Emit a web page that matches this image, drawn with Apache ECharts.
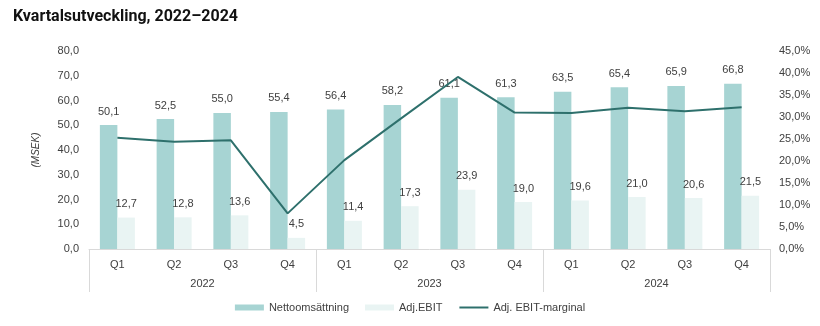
<!DOCTYPE html>
<html>
<head>
<meta charset="utf-8">
<script src="https://cdn.jsdelivr.net/npm/echarts@6/dist/echarts.min.js"></script>
<style>
html,body{margin:0;padding:0;background:#fff;}
#c{width:820px;height:326px;}
</style>
</head>
<body>
<div id="c"></div>
<script>
var quarters = ['Q1','Q2','Q3','Q4','Q1','Q2','Q3','Q4','Q1','Q2','Q3','Q4'];
var years = ['2022','2023','2024'];
var nettoomsattning = [50.1,52.5,55.0,55.4,56.4,58.2,61.1,61.3,63.5,65.4,65.9,66.8];
var adjEbit = [12.7,12.8,13.6,4.5,11.4,17.3,23.9,19.0,19.6,21.0,20.6,21.5];
var ebitMarginal = [25.3,24.4,24.7,8.1,20.2,29.7,39.1,31.0,30.9,32.1,31.3,32.2];

var fmt1 = function(v){ return Number(v).toFixed(1).replace('.', ','); };
var FONT = '"Liberation Sans", Arial, sans-serif';
var chart = echarts.init(document.getElementById('c'));
chart.setOption({
  animation: false,
  title: {
    text: 'Kvartalsutveckling, 2022–2024',
    left: 8, top: 4,
    textStyle: {fontFamily: 'Roboto, "Noto Sans", sans-serif', fontWeight: 'bold', fontSize: 16, color: '#111'}
  },
  grid: {left: 89, right: 50, top: 51, bottom: 77},
  legend: {
    bottom: 8, left: 'center',
    itemWidth: 29, itemHeight: 6, itemGap: 16,
    textStyle: {fontFamily: FONT, fontSize: 11, color: '#404040'},
    data: [
      {name: 'Nettoomsättning', icon: 'rect'},
      {name: 'Adj.EBIT', icon: 'rect'},
      {name: 'Adj. EBIT-marginal', itemStyle: {opacity: 0}}
    ]
  },
  xAxis: [
    {
      type: 'category', data: quarters, position: 'bottom',
      axisLine: {show: true, lineStyle: {color: '#d9d9d9', width: 1}},
      axisTick: {show: false},
      axisLabel: {margin: 10, fontFamily: FONT, fontSize: 11, color: '#404040'}
    },
    {
      type: 'category', data: years, position: 'bottom',
      axisLine: {show: false},
      axisTick: {show: true, length: 43, lineStyle: {color: '#d9d9d9'}},
      axisLabel: {margin: 29, fontFamily: FONT, fontSize: 11, color: '#404040'},
      splitLine: {show: false}
    }
  ],
  yAxis: [
    {
      type: 'value', min: 0, max: 80, interval: 10,
      name: '(MSEK)', nameLocation: 'middle', nameGap: 48, nameRotate: 90,
      nameTextStyle: {fontFamily: FONT, fontSize: 10, fontStyle: 'italic', color: '#404040'},
      axisLine: {show: false}, axisTick: {show: false}, splitLine: {show: false},
      axisLabel: {margin: 10, fontFamily: FONT, fontSize: 11, color: '#404040', formatter: fmt1}
    },
    {
      type: 'value', min: 0, max: 45, interval: 5, position: 'right',
      axisLine: {show: false}, axisTick: {show: false}, splitLine: {show: false},
      axisLabel: {margin: 9, fontFamily: FONT, fontSize: 11, color: '#404040',
        formatter: function(v){ return fmt1(v) + '%'; }}
    }
  ],
  series: [
    {
      name: 'Nettoomsättning', type: 'bar', data: nettoomsattning,
      barWidth: 17.5, barGap: '0%',
      itemStyle: {color: '#a7d4d3'},
      label: {show: true, position: 'top', distance: 8, fontFamily: FONT, fontSize: 11, color: '#404040',
        formatter: function(p){ return fmt1(p.value); }}
    },
    {
      name: 'Adj.EBIT', type: 'bar', data: adjEbit,
      barWidth: 17.5, barGap: '0%',
      itemStyle: {color: '#e9f4f3'},
      label: {show: true, position: 'top', distance: 8, fontFamily: FONT, fontSize: 11, color: '#404040',
        formatter: function(p){ return fmt1(p.value); }}
    },
    {
      name: 'Adj. EBIT-marginal', type: 'line', yAxisIndex: 1, data: ebitMarginal,
      symbol: 'none', lineStyle: {color: '#2e706c', width: 2}, itemStyle: {color: '#2e706c'}
    }
  ]
});
</script>
</body>
</html>
